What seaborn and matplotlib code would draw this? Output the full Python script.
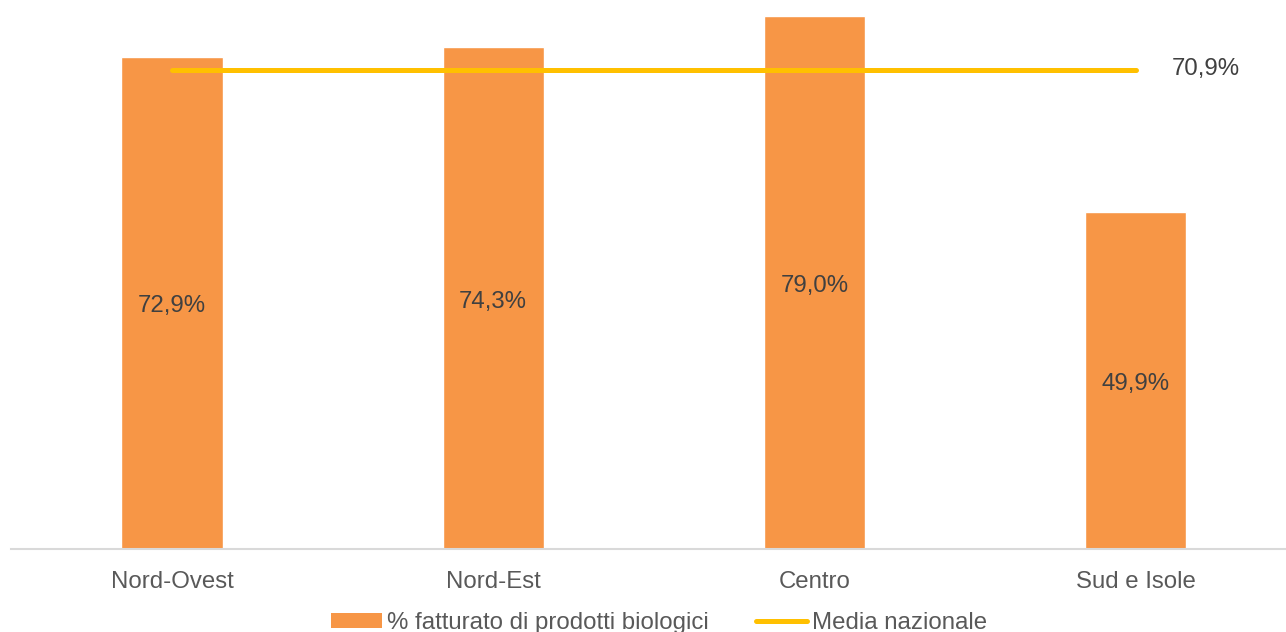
import matplotlib
matplotlib.use("Agg")
import matplotlib.pyplot as plt
from matplotlib.patches import Patch
from matplotlib.lines import Line2D
import seaborn as sns
import pandas as pd

# Data
aree = ["Nord-Ovest", "Nord-Est", "Centro", "Sud e Isole"]
quota_bio = [72.9, 74.3, 79.0, 49.9]
media_nazionale = 70.9
etichetta_barre = "% fatturato di prodotti biologici"
etichetta_media = "Media nazionale"

BAR_COLOR = "#F79646"
LINE_COLOR = "#FFC000"
TEXT_DARK = "#404040"
TEXT_GREY = "#595959"
FS = 17.3

sns.set_theme(style="white")
plt.rcParams["font.family"] = ["Liberation Sans", "DejaVu Sans"]

W, H = 1286, 632
fig = plt.figure(figsize=(W / 100, H / 100), dpi=100)
left_px, base_px = 11.3, 549
ax = fig.add_axes([left_px / W, (H - base_px) / H, (W - left_px) / W, base_px / H])

df = pd.DataFrame({"area": aree, "quota": quota_bio})
sns.barplot(data=df, x="area", y="quota", color=BAR_COLOR, saturation=1,
            width=0.315, ax=ax)

# Value labels centred in each bar
for cont in ax.containers:
    texts = ax.bar_label(cont, labels=[f"{v:.1f}%".replace(".", ",") for v in quota_bio],
                         label_type="center", fontsize=FS, color=TEXT_DARK)
    for t in texts:
        t.xyann = (0, -2.5)

# National average line across the categories
xs = list(range(len(aree)))
ax.plot(xs, [media_nazionale] * len(aree), color=LINE_COLOR, lw=3.6,
        solid_capstyle="round", zorder=3)
ax.annotate(f"{media_nazionale:.1f}%".replace(".", ","),
            xy=(xs[-1], media_nazionale), xytext=(26, 1),
            textcoords="offset points", ha="left", va="center",
            fontsize=FS, color=TEXT_DARK)

ax.set_ylim(0, base_px / 6.75)
ax.set_xlim(-0.5, -0.5 + (W - left_px) / 321.3)
ax.set_xlabel("")
ax.set_ylabel("")
ax.set_yticks([])
ax.tick_params(axis="x", length=0, pad=16, labelsize=FS, labelcolor=TEXT_GREY)
for side in ["top", "left", "right"]:
    ax.spines[side].set_visible(False)
ax.spines["bottom"].set_color("#D9D9D9")
ax.spines["bottom"].set_linewidth(1.5)

handles = [Patch(facecolor=BAR_COLOR, edgecolor="none"),
           Line2D([0], [0], color=LINE_COLOR, lw=3.6, solid_capstyle="round")]
leg = fig.legend(handles, [etichetta_barre, etichetta_media], loc="center",
                 bbox_to_anchor=(659 / W, 9 / H), ncol=2, frameon=False,
                 fontsize=FS, handlelength=2.1, handleheight=0.6,
                 handletextpad=0.2, columnspacing=2.0)
for t in leg.get_texts():
    t.set_color(TEXT_GREY)

fig.savefig("out.png", dpi=100)
